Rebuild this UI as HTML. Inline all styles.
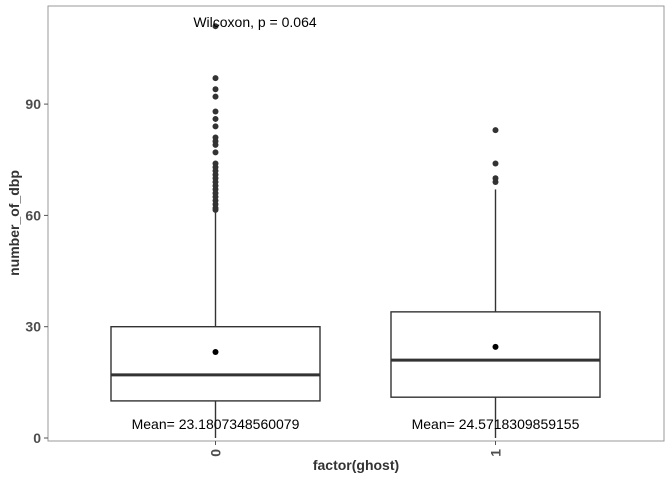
<!DOCTYPE html>
<html><head><meta charset="utf-8"><style>
body{margin:0;background:#fff;font-family:"Liberation Sans",sans-serif}
</style></head><body>
<svg id="c" width="672" height="480" xmlns="http://www.w3.org/2000/svg"></svg>
<script>
const categories=["0","1"];
const q1s=[10,11];
const medians=[17,21];
const q3s=[30,34];
const whiskerLow=[0,0];
const whiskerHigh=[61,67];
const means=[23.1807348560079,24.5718309859155];
const meanLabels=["Mean= 23.1807348560079","Mean= 24.5718309859155"];
const outliers0=[111,97,94,92,88,86,84,81,80,79,77,74,73,72,71,70,69,68,67,66,65,64,63,62,61.5];
const outliers1=[83,74,70,69];
const yTicks=[0,30,60,90];
const L=48,R=664,T=6,B=441;
const y=v=>438-v*3.71;
const xc=i=>[215.5,495.5][i];
const halfW=104.5;
const s=document.getElementById('c');
const NS="http://www.w3.org/2000/svg";
function mk(t,a,txt){const e=document.createElementNS(NS,t);for(const k in a)e.setAttribute(k,a[k]);if(txt!==undefined)e.textContent=txt;s.appendChild(e);return e;}
let e;
e=mk('rect',{x:L,y:T,width:R-L,height:B-T,fill:'#fff',stroke:'#999','stroke-width':1});

yTicks.forEach(v=>{
 e=mk('line',{x1:L-4,x2:L,y1:y(v),y2:y(v),stroke:'#555'});
 
 e=mk('text',{x:L-7,y:y(v)+5,'text-anchor':'end','font-size':14,'font-weight':'bold',fill:'#4d4d4d'},String(v));
 
});
const outs=[outliers0,outliers1];
categories.forEach((c,i)=>{
 const x=xc(i);
 e=mk('line',{x1:x,x2:x,y1:y(whiskerHigh[i]),y2:y(q3s[i]),stroke:'#333','stroke-width':1.4});
 
 e=mk('line',{x1:x,x2:x,y1:y(q1s[i]),y2:y(whiskerLow[i]),stroke:'#333','stroke-width':1.4});
 
 e=mk('rect',{x:x-halfW,y:y(q3s[i]),width:2*halfW,height:y(q1s[i])-y(q3s[i]),fill:'#fff',stroke:'#333','stroke-width':1.4});
 
 e=mk('line',{x1:x-halfW,x2:x+halfW,y1:y(medians[i]),y2:y(medians[i]),stroke:'#333','stroke-width':3});
 
 outs[i].forEach(v=>{
  e=mk('circle',{cx:x,cy:y(v),r:3,fill:'#333'});
  
 });
 e=mk('circle',{cx:x,cy:y(means[i]),r:3,fill:'#000'});
 
 e=mk('text',{x:x,y:429,'text-anchor':'middle','font-size':14,fill:'#000'},meanLabels[i]);
 
 e=mk('line',{x1:x,x2:x,y1:B,y2:B+4,stroke:'#555'});
 
 e=mk('text',{x:x+5,y:B+8,'text-anchor':'end','font-size':14,'font-weight':'bold',fill:'#4d4d4d',transform:`rotate(-90 ${x+5} ${B+8})`},c);
 
});
e=mk('text',{x:255,y:27,'text-anchor':'middle','font-size':14,fill:'#000'},'Wilcoxon, p = 0.064');

e=mk('text',{x:356,y:470,'text-anchor':'middle','font-size':14,'font-weight':'bold',fill:'#333'},'factor(ghost)');

e=mk('text',{x:19,y:223,'text-anchor':'middle','font-size':14,'font-weight':'bold',fill:'#333',transform:'rotate(-90 19 223)'},'number_of_dbp');

</script>
</body></html>
